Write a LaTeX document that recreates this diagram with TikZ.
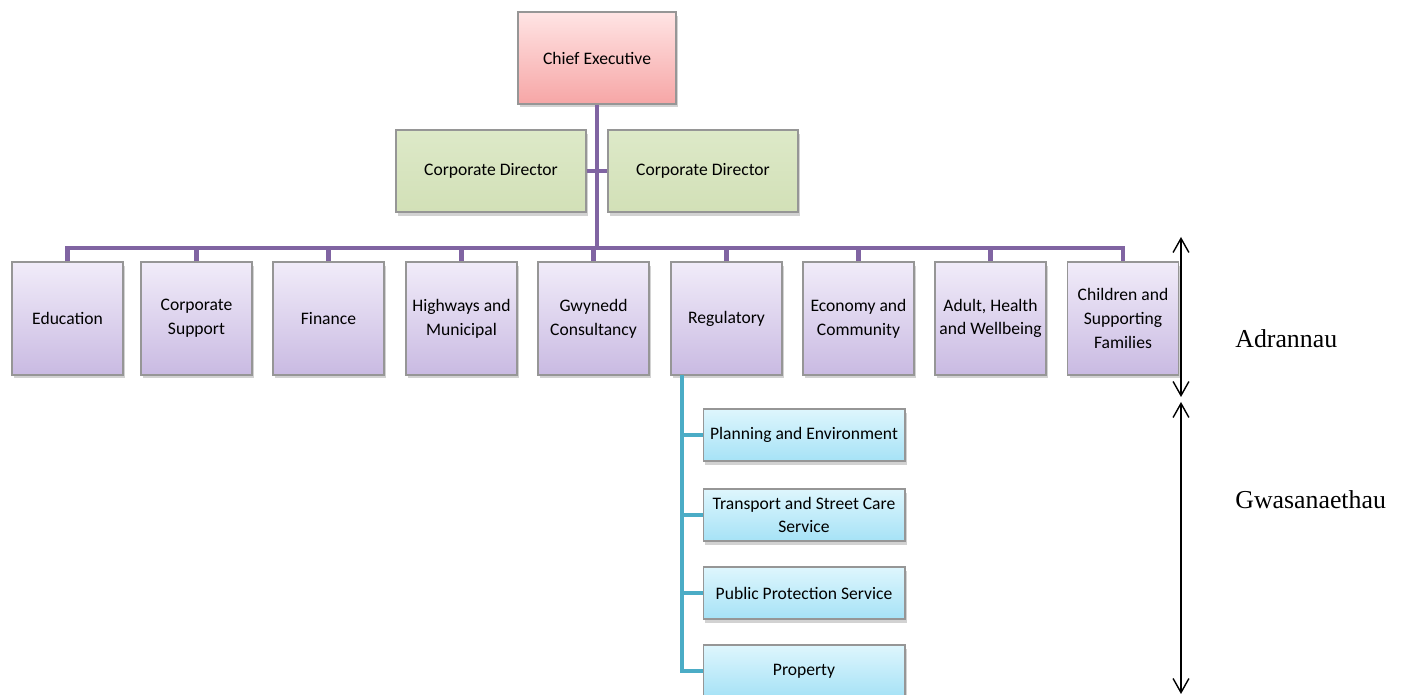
\documentclass[tikz,border=0pt]{standalone}
\usepackage{fontspec}
\setmainfont{Liberation Serif}
\newfontfamily\boxfont{Carlito}
\usetikzlibrary{shadows,arrows.meta,calc}
\definecolor{purp}{RGB}{128,100,162}
\definecolor{tealc}{RGB}{75,172,198}
\definecolor{boxborder}{RGB}{150,150,150}
\definecolor{pinkT}{RGB}{255,228,228}
\definecolor{pinkB}{RGB}{246,166,166}
\definecolor{greenT}{RGB}{221,233,200}
\definecolor{greenB}{RGB}{210,224,183}
\definecolor{purT}{RGB}{241,236,249}
\definecolor{purB}{RGB}{201,186,226}
\definecolor{tealT}{RGB}{222,246,253}
\definecolor{tealB}{RGB}{166,226,246}
\tikzset{
  box/.style={draw=boxborder, line width=0.6pt, inner sep=1pt, align=center,
    font=\boxfont\fontsize{10}{13.5}\selectfont,
    drop shadow={shadow xshift=1.3pt, shadow yshift=-2pt, opacity=0.35}},
  chiefbox/.style={box, top color=pinkT, bottom color=pinkB, minimum width=3.16cm, minimum height=1.84cm},
  dirbox/.style={box, top color=greenT, bottom color=greenB, minimum width=3.8cm, minimum height=1.64cm},
  deptbox/.style={box, top color=purT, bottom color=purB, minimum width=2.22cm, minimum height=2.26cm},
  servbox/.style={box, top color=tealT, bottom color=tealB, minimum width=4.04cm, minimum height=1.04cm},
  purpline/.style={draw=purp, line width=2.8pt},
  tealline/.style={draw=tealc, line width=2.3pt},
  spanarrow/.style={draw=black, line width=0.8pt, {Straight Barb[length=8pt,width=9pt]}-{Straight Barb[length=8pt,width=9pt]}},
  sidelabel/.style={anchor=west, inner sep=0pt, font=\fontsize{14.7}{17}\selectfont}
}
\begin{document}
\begin{tikzpicture}[x=0.02cm,y=-0.02cm]
\useasboundingbox (0,0) rectangle (1407,695);
\fill[white] (0,0) rectangle (1407,695);

\coordinate (busC) at (597,248);
\coordinate (rtop) at (682,375);

\node[chiefbox] (chief) at (597,58) {Chief Executive};
\node[dirbox] (d1) at (491,171) {Corporate Director};
\node[dirbox] (d2) at (703,171) {Corporate Director};

\node[deptbox] (edu) at (67.5,318.5) {Education};
\node[deptbox] (cs)  at (196.5,318.5) {Corporate\\Support};
\node[deptbox] (fin) at (328.5,318.5) {Finance};
\node[deptbox] (hw)  at (461.5,318.5) {Highways and\\Municipal};
\node[deptbox] (gc)  at (593.5,318.5) {Gwynedd\\Consultancy};
\node[deptbox] (reg) at (726.5,318.5) {Regulatory};
\node[deptbox] (eco) at (858.5,318.5) {Economy and\\Community};
\node[deptbox] (adu) at (990.5,318.5) {Adult, Health\\and Wellbeing};
\node[deptbox] (chi) at (1123,318.5) {Children and\\Supporting\\Families};

\node[servbox] (plan) at (804,435) {Planning and Environment};
\node[servbox] (tra)  at (804,515) {Transport and Street Care\\Service};
\node[servbox] (pub)  at (804,593) {Public Protection Service};
\node[servbox] (prop) at (804,671) {Property};

% purple connectors
\draw[purpline] (chief.south) -- (busC);
\draw[purpline] (d1.east) -- (d2.west);
\draw[purpline, line join=miter] (edu.north) |- (busC) -| (chi.north);
\foreach \n in {cs,fin,hw,gc,reg,eco,adu}
  \draw[purpline] (\n.north) -- (\n.north |- busC);

% teal connectors
\draw[tealline, line join=miter] (rtop) |- (prop.west);
\foreach \n in {plan,tra,pub}
  \draw[tealline] (\n.west) -- (\n.west -| rtop);

% span arrows
\coordinate (a1) at (1181,237);
\coordinate (a2) at (1181,397);
\coordinate (a3) at (1181,402);
\coordinate (a4) at (1181,694);
\draw[spanarrow] (a1) -- (a2);
\draw[spanarrow] (a3) -- (a4);

\node[sidelabel] (adr) at (1235,339) {Adrannau};
\node[sidelabel] (gwa) at (1235,500) {Gwasanaethau};
\end{tikzpicture}
\end{document}
